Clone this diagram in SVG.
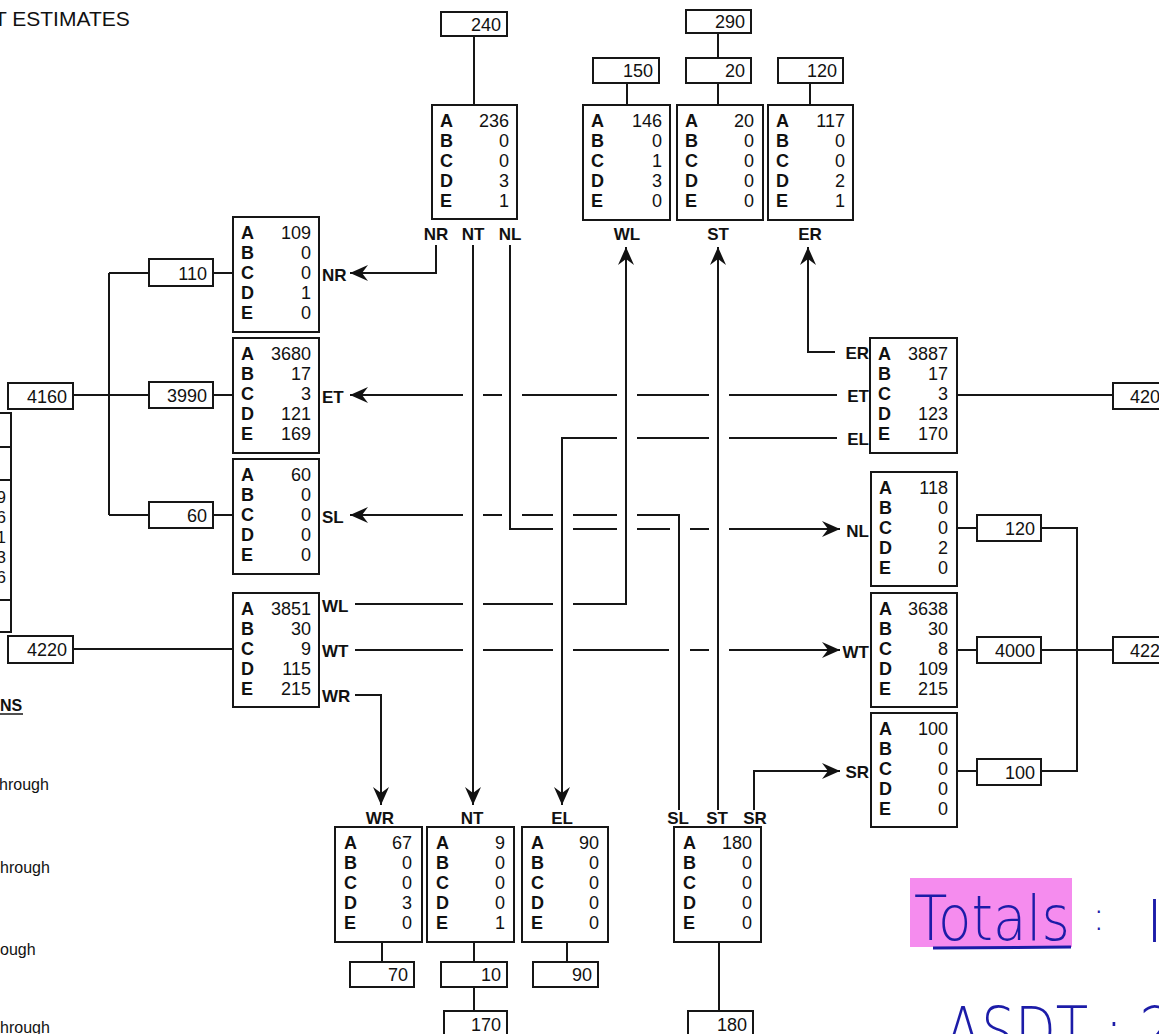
<svg xmlns="http://www.w3.org/2000/svg" width="1159" height="1034" viewBox="0 0 1159 1034">
<style>
.box{fill:#fff;stroke:#161616;stroke-width:2}
.ln{fill:none;stroke:#161616;stroke-width:2}
.ar{fill:none;stroke:#161616;stroke-width:2;marker-end:url(#ah)}
.k{font-family:"Liberation Sans",Arial,sans-serif;font-weight:bold;font-size:18px;fill:#111}
.v{font-family:"Liberation Sans",Arial,sans-serif;font-size:18px;fill:#111;text-anchor:end}
.vs{font-family:"Liberation Sans",Arial,sans-serif;font-size:18px;fill:#111}
.lb{font-family:"Liberation Sans",Arial,sans-serif;font-weight:bold;font-size:17px;fill:#111}
.lc{text-anchor:middle}
.le{text-anchor:end}
.t{font-family:"Liberation Sans",Arial,sans-serif;font-size:16px;fill:#111}
.hw{font-family:"DejaVu Sans",sans-serif;font-weight:200;fill:#1c1ca8}
</style>
<defs>
<marker id="ah" viewBox="-20 -9 22 18" refX="0" refY="0" markerWidth="22" markerHeight="18" markerUnits="userSpaceOnUse" orient="auto">
<path d="M0,0 L-18,-8 L-12,0 L-18,8 Z" fill="#111"/>
</marker>
</defs>
<rect width="1159" height="1034" fill="#fff"/>

<!-- page texts -->
<text class="t" x="-6" y="26" style="font-size:21px">T ESTIMATES</text>
<text class="t" x="0" y="711" style="font-weight:bold">NS</text>
<line class="ln" x1="0" y1="714" x2="23" y2="714" style="stroke-width:1.5"/>
<text class="t" x="-1" y="790">hrough</text>
<text class="t" x="0" y="873">hrough</text>
<text class="t" x="0" y="955">ough</text>
<text class="t" x="0" y="1033">hrough</text>

<!-- partial box at left edge -->
<g id="node-left-partial">
<path class="ln" d="M0,413 H11 V632 H0 M0,447 H11 M0,480 H11 M0,600 H11"/>
<text class="v" style="font-size:17px"><tspan x="6" y="503">9</tspan><tspan x="6" y="523">6</tspan><tspan x="6" y="543">1</tspan><tspan x="6" y="563">3</tspan><tspan x="6" y="583">6</tspan></text>
</g>

<!-- connectors -->
<g id="connectors">
<!-- box links -->
<path class="ln" d="M474,36 V105 M627,83 V105 M718,33 V58 M718,83 V105 M810,83 V105"/>
<path class="ln" d="M213,273 H233 M213,395 H233 M213,515 H233 M109,273 V515 M109,273 H149 M109,515 H149 M73,395 H149 M73,649 H233"/>
<path class="ln" d="M957,395 H1113 M957,528 H977 M1041,528 H1077 V771 H1041 M957,771 H977 M957,650 H977 M1041,650 H1113"/>
<path class="ln" d="M382,942 V962 M474,942 V962 M474,987 V1011 M567,942 V962 M719,942 V1011"/>
<!-- movements -->
<path class="ar" d="M436,245 V273 H350"/>
<path class="ar" d="M473,245 V805"/>
<path class="ln" d="M510,245 V529 H553 M573,529 H617 M637,529 H670 M690,529 H709"/>
<path class="ar" d="M729,529 H840"/>
<path class="ln" d="M837,395 H729 M709,395 H637 M617,395 H522 M502,395 H483"/>
<path class="ar" d="M463,395 H350"/>
<path class="ln" d="M837,438 H729 M709,438 H637"/>
<path class="ar" d="M617,438 H562 V805"/>
<path class="ln" d="M679,810 V515 H637 M617,515 H573 M553,515 H522 M502,515 H483"/>
<path class="ar" d="M463,515 H350"/>
<path class="ln" d="M355,604 H463 M483,604 H553"/>
<path class="ar" d="M573,604 H626 V247"/>
<path class="ln" d="M355,650 H463 M483,650 H553 M573,650 H669 M690,650 H709"/>
<path class="ar" d="M729,650 H840"/>
<path class="ar" d="M355,695 H381 V805"/>
<path class="ar" d="M718,810 V247"/>
<path class="ar" d="M754,810 V771 H840"/>
<path class="ar" d="M835,352 H808 V247"/>
</g>

<!-- small value boxes -->
<g id="node-240"><rect class="box" x="441" y="12" width="66" height="24"/><text class="v" x="501" y="31">240</text></g>
<g id="node-290"><rect class="box" x="686" y="10" width="65" height="23"/><text class="v" x="745" y="28">290</text></g>
<g id="node-150"><rect class="box" x="593" y="58" width="66" height="25"/><text class="v" x="653" y="77">150</text></g>
<g id="node-20"><rect class="box" x="686" y="58" width="65" height="25"/><text class="v" x="745" y="77">20</text></g>
<g id="node-120-top"><rect class="box" x="778" y="58" width="65" height="25"/><text class="v" x="837" y="77">120</text></g>
<g id="node-110"><rect class="box" x="149" y="259" width="64" height="27"/><text class="v" x="207" y="280">110</text></g>
<g id="node-3990"><rect class="box" x="149" y="382" width="64" height="26"/><text class="v" x="207" y="402">3990</text></g>
<g id="node-60"><rect class="box" x="149" y="502" width="64" height="26"/><text class="v" x="207" y="522">60</text></g>
<g id="node-4160"><rect class="box" x="8" y="383" width="65" height="26"/><text class="v" x="67" y="403">4160</text></g>
<g id="node-4220"><rect class="box" x="8" y="636" width="65" height="27"/><text class="v" x="67" y="656">4220</text></g>
<g id="node-420"><rect class="box" x="1113" y="383" width="80" height="26"/><text class="vs" x="1130" y="403">420</text></g>
<g id="node-120-right"><rect class="box" x="977" y="515" width="64" height="26"/><text class="v" x="1035" y="535">120</text></g>
<g id="node-4000"><rect class="box" x="977" y="637" width="64" height="26"/><text class="v" x="1035" y="657">4000</text></g>
<g id="node-100"><rect class="box" x="977" y="759" width="64" height="26"/><text class="v" x="1035" y="779">100</text></g>
<g id="node-422"><rect class="box" x="1113" y="637" width="80" height="26"/><text class="vs" x="1130" y="657">422</text></g>
<g id="node-70"><rect class="box" x="350" y="962" width="64" height="25"/><text class="v" x="408" y="981">70</text></g>
<g id="node-10"><rect class="box" x="441" y="962" width="66" height="25"/><text class="v" x="501" y="981">10</text></g>
<g id="node-90"><rect class="box" x="533" y="962" width="65" height="25"/><text class="v" x="592" y="981">90</text></g>
<g id="node-170"><rect class="box" x="444" y="1011" width="63" height="30"/><text class="v" x="501" y="1031">170</text></g>
<g id="node-180"><rect class="box" x="688" y="1011" width="65" height="30"/><text class="v" x="747" y="1031">180</text></g>

<!-- count boxes -->
<g id="node-north">
<rect class="box" x="432" y="105" width="85" height="114"/>
<text class="k"><tspan x="440" y="127">A</tspan><tspan x="440" y="147">B</tspan><tspan x="440" y="167">C</tspan><tspan x="440" y="187">D</tspan><tspan x="440" y="207">E</tspan></text>
<text class="v"><tspan x="509" y="127">236</tspan><tspan x="509" y="147">0</tspan><tspan x="509" y="167">0</tspan><tspan x="509" y="187">3</tspan><tspan x="509" y="207">1</tspan></text>
<text class="lb lc"><tspan x="436" y="240">NR</tspan><tspan x="473" y="240">NT</tspan><tspan x="510" y="240">NL</tspan></text>
</g>
<g id="node-top-WL">
<rect class="box" x="583" y="105" width="87" height="115"/>
<text class="k"><tspan x="591" y="127">A</tspan><tspan x="591" y="147">B</tspan><tspan x="591" y="167">C</tspan><tspan x="591" y="187">D</tspan><tspan x="591" y="207">E</tspan></text>
<text class="v"><tspan x="662" y="127">146</tspan><tspan x="662" y="147">0</tspan><tspan x="662" y="167">1</tspan><tspan x="662" y="187">3</tspan><tspan x="662" y="207">0</tspan></text>
<text class="lb lc" x="627" y="240">WL</text>
</g>
<g id="node-top-ST">
<rect class="box" x="677" y="105" width="86" height="115"/>
<text class="k"><tspan x="685" y="127">A</tspan><tspan x="685" y="147">B</tspan><tspan x="685" y="167">C</tspan><tspan x="685" y="187">D</tspan><tspan x="685" y="207">E</tspan></text>
<text class="v"><tspan x="754" y="127">20</tspan><tspan x="754" y="147">0</tspan><tspan x="754" y="167">0</tspan><tspan x="754" y="187">0</tspan><tspan x="754" y="207">0</tspan></text>
<text class="lb lc" x="718" y="240">ST</text>
</g>
<g id="node-top-ER">
<rect class="box" x="768" y="105" width="85" height="115"/>
<text class="k"><tspan x="776" y="127">A</tspan><tspan x="776" y="147">B</tspan><tspan x="776" y="167">C</tspan><tspan x="776" y="187">D</tspan><tspan x="776" y="207">E</tspan></text>
<text class="v"><tspan x="845" y="127">117</tspan><tspan x="845" y="147">0</tspan><tspan x="845" y="167">0</tspan><tspan x="845" y="187">2</tspan><tspan x="845" y="207">1</tspan></text>
<text class="lb lc" x="810" y="240">ER</text>
</g>

<g id="node-west-NR">
<rect class="box" x="233" y="217" width="86" height="115"/>
<text class="k"><tspan x="241" y="239">A</tspan><tspan x="241" y="259">B</tspan><tspan x="241" y="279">C</tspan><tspan x="241" y="299">D</tspan><tspan x="241" y="319">E</tspan></text>
<text class="v"><tspan x="311" y="239">109</tspan><tspan x="311" y="259">0</tspan><tspan x="311" y="279">0</tspan><tspan x="311" y="299">1</tspan><tspan x="311" y="319">0</tspan></text>
<text class="lb" x="322" y="281">NR</text>
</g>
<g id="node-west-ET">
<rect class="box" x="233" y="338" width="86" height="115"/>
<text class="k"><tspan x="241" y="360">A</tspan><tspan x="241" y="380">B</tspan><tspan x="241" y="400">C</tspan><tspan x="241" y="420">D</tspan><tspan x="241" y="440">E</tspan></text>
<text class="v"><tspan x="311" y="360">3680</tspan><tspan x="311" y="380">17</tspan><tspan x="311" y="400">3</tspan><tspan x="311" y="420">121</tspan><tspan x="311" y="440">169</tspan></text>
<text class="lb" x="322" y="403">ET</text>
</g>
<g id="node-west-SL">
<rect class="box" x="233" y="459" width="86" height="115"/>
<text class="k"><tspan x="241" y="481">A</tspan><tspan x="241" y="501">B</tspan><tspan x="241" y="521">C</tspan><tspan x="241" y="541">D</tspan><tspan x="241" y="561">E</tspan></text>
<text class="v"><tspan x="311" y="481">60</tspan><tspan x="311" y="501">0</tspan><tspan x="311" y="521">0</tspan><tspan x="311" y="541">0</tspan><tspan x="311" y="561">0</tspan></text>
<text class="lb" x="322" y="523">SL</text>
</g>
<g id="node-west">
<rect class="box" x="233" y="593" width="86" height="114"/>
<text class="k"><tspan x="241" y="615">A</tspan><tspan x="241" y="635">B</tspan><tspan x="241" y="655">C</tspan><tspan x="241" y="675">D</tspan><tspan x="241" y="695">E</tspan></text>
<text class="v"><tspan x="311" y="615">3851</tspan><tspan x="311" y="635">30</tspan><tspan x="311" y="655">9</tspan><tspan x="311" y="675">115</tspan><tspan x="311" y="695">215</tspan></text>
<text class="lb"><tspan x="322" y="612">WL</tspan><tspan x="322" y="657">WT</tspan><tspan x="322" y="702">WR</tspan></text>
</g>

<g id="node-east">
<rect class="box" x="870" y="338" width="87" height="115"/>
<text class="k"><tspan x="878" y="360">A</tspan><tspan x="878" y="380">B</tspan><tspan x="878" y="400">C</tspan><tspan x="878" y="420">D</tspan><tspan x="878" y="440">E</tspan></text>
<text class="v"><tspan x="948" y="360">3887</tspan><tspan x="948" y="380">17</tspan><tspan x="948" y="400">3</tspan><tspan x="948" y="420">123</tspan><tspan x="948" y="440">170</tspan></text>
<text class="lb le"><tspan x="869" y="359">ER</tspan><tspan x="869" y="402">ET</tspan><tspan x="869" y="445">EL</tspan></text>
</g>
<g id="node-east-NL">
<rect class="box" x="871" y="472" width="86" height="114"/>
<text class="k"><tspan x="879" y="494">A</tspan><tspan x="879" y="514">B</tspan><tspan x="879" y="534">C</tspan><tspan x="879" y="554">D</tspan><tspan x="879" y="574">E</tspan></text>
<text class="v"><tspan x="948" y="494">118</tspan><tspan x="948" y="514">0</tspan><tspan x="948" y="534">0</tspan><tspan x="948" y="554">2</tspan><tspan x="948" y="574">0</tspan></text>
<text class="lb le" x="869" y="537">NL</text>
</g>
<g id="node-east-WT">
<rect class="box" x="871" y="593" width="86" height="114"/>
<text class="k"><tspan x="879" y="615">A</tspan><tspan x="879" y="635">B</tspan><tspan x="879" y="655">C</tspan><tspan x="879" y="675">D</tspan><tspan x="879" y="695">E</tspan></text>
<text class="v"><tspan x="948" y="615">3638</tspan><tspan x="948" y="635">30</tspan><tspan x="948" y="655">8</tspan><tspan x="948" y="675">109</tspan><tspan x="948" y="695">215</tspan></text>
<text class="lb le" x="869" y="658">WT</text>
</g>
<g id="node-east-SR">
<rect class="box" x="871" y="713" width="86" height="114"/>
<text class="k"><tspan x="879" y="735">A</tspan><tspan x="879" y="755">B</tspan><tspan x="879" y="775">C</tspan><tspan x="879" y="795">D</tspan><tspan x="879" y="815">E</tspan></text>
<text class="v"><tspan x="948" y="735">100</tspan><tspan x="948" y="755">0</tspan><tspan x="948" y="775">0</tspan><tspan x="948" y="795">0</tspan><tspan x="948" y="815">0</tspan></text>
<text class="lb le" x="869" y="778">SR</text>
</g>

<g id="node-bottom-WR">
<rect class="box" x="335" y="827" width="87" height="115"/>
<text class="k"><tspan x="344" y="849">A</tspan><tspan x="344" y="869">B</tspan><tspan x="344" y="889">C</tspan><tspan x="344" y="909">D</tspan><tspan x="344" y="929">E</tspan></text>
<text class="v"><tspan x="412" y="849">67</tspan><tspan x="412" y="869">0</tspan><tspan x="412" y="889">0</tspan><tspan x="412" y="909">3</tspan><tspan x="412" y="929">0</tspan></text>
<text class="lb lc" x="380" y="824">WR</text>
</g>
<g id="node-bottom-NT">
<rect class="box" x="427" y="827" width="87" height="115"/>
<text class="k"><tspan x="436" y="849">A</tspan><tspan x="436" y="869">B</tspan><tspan x="436" y="889">C</tspan><tspan x="436" y="909">D</tspan><tspan x="436" y="929">E</tspan></text>
<text class="v"><tspan x="505" y="849">9</tspan><tspan x="505" y="869">0</tspan><tspan x="505" y="889">0</tspan><tspan x="505" y="909">0</tspan><tspan x="505" y="929">1</tspan></text>
<text class="lb lc" x="472" y="824">NT</text>
</g>
<g id="node-bottom-EL">
<rect class="box" x="522" y="827" width="86" height="115"/>
<text class="k"><tspan x="531" y="849">A</tspan><tspan x="531" y="869">B</tspan><tspan x="531" y="889">C</tspan><tspan x="531" y="909">D</tspan><tspan x="531" y="929">E</tspan></text>
<text class="v"><tspan x="599" y="849">90</tspan><tspan x="599" y="869">0</tspan><tspan x="599" y="889">0</tspan><tspan x="599" y="909">0</tspan><tspan x="599" y="929">0</tspan></text>
<text class="lb lc" x="562" y="824">EL</text>
</g>
<g id="node-south">
<rect class="box" x="674" y="827" width="87" height="115"/>
<text class="k"><tspan x="683" y="849">A</tspan><tspan x="683" y="869">B</tspan><tspan x="683" y="889">C</tspan><tspan x="683" y="909">D</tspan><tspan x="683" y="929">E</tspan></text>
<text class="v"><tspan x="752" y="849">180</tspan><tspan x="752" y="869">0</tspan><tspan x="752" y="889">0</tspan><tspan x="752" y="909">0</tspan><tspan x="752" y="929">0</tspan></text>
<text class="lb lc"><tspan x="678" y="824">SL</tspan><tspan x="717" y="824">ST</tspan><tspan x="755" y="824">SR</tspan></text>
</g>

<!-- handwritten notes -->
<g id="notes">
<rect x="910" y="878" width="162" height="69" fill="#f58cee"/>
<text class="hw" x="914" y="940" style="font-size:62px" textLength="156" lengthAdjust="spacingAndGlyphs">Totals</text>
<line x1="933" y1="948" x2="1071" y2="947" stroke="#1c1ca8" stroke-width="3"/>
<text class="hw" style="font-size:58px"><tspan x="1092" y="930" style="font-size:40px">:</tspan><tspan x="1146" y="942">I</tspan></text>
<text class="hw" x="945" y="1054" style="font-size:66px" textLength="262" lengthAdjust="spacingAndGlyphs">ASDT : 20</text>
</g>
</svg>
